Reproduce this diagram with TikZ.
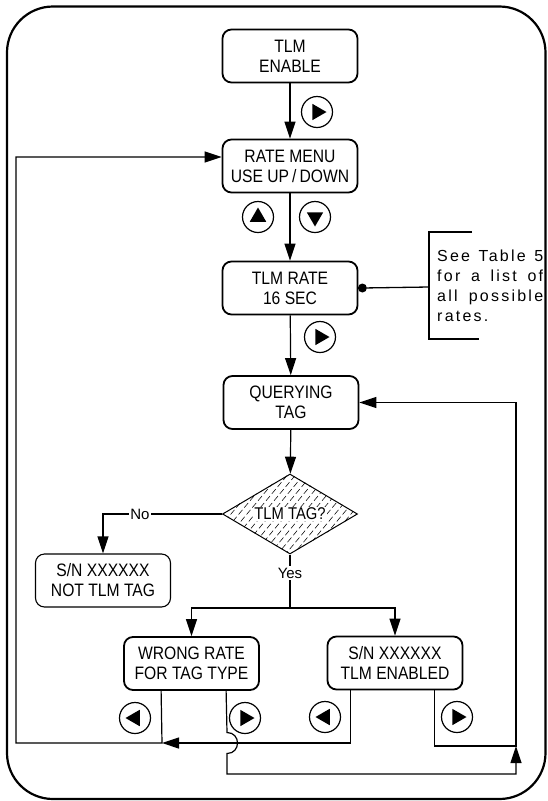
\documentclass[tikz,border=0pt]{standalone}
\usepackage{fontspec}
\setmainfont{Liberation Sans}
\newfontfamily\boxfont[FakeStretch=0.87]{Liberation Sans}
\newfontfamily\notefont[LetterSpace=14]{Liberation Sans}
\usetikzlibrary{arrows.meta,shapes.geometric}

\tikzset{
  box/.style={draw, line width=1.8pt, rounded corners=9pt, minimum width=135pt,
    minimum height=53pt, inner sep=0pt, align=center,
    font=\boxfont\fontsize{18}{20}\selectfont},
  conn/.style={line width=1.2pt},
  arr/.style={conn, -{Triangle[length=17pt,width=11pt]}},
  btn/.style={circle, draw, line width=1.2pt, minimum size=31pt, inner sep=0pt},
  tri/.style={regular polygon, regular polygon sides=3, fill, draw=none,
    inner sep=0pt, minimum size=19pt, shape border rotate=#1},
  lbl/.style={fill=white, inner sep=1.5pt, font=\fontsize{15}{17}\selectfont},
  hatch/.style={line width=0.55pt, dash pattern=on 6pt off 3pt},
}

\begin{document}
\begin{tikzpicture}[x=1pt,y=-1pt]
\useasboundingbox (0,0) rectangle (548,801);

% outer frame
\draw[line width=2.2pt, rounded corners=46pt] (7,6.5) rectangle (545.5,799);

% menu states
\node[box] (en)    at (290,56)    {TLM\\ENABLE};
\node[box] (menu)  at (290,166)   {RATE MENU\\USE UP\,/\,DOWN};
\node[box] (rate)  at (290,288)   {TLM RATE\\16 SEC};
\node[box] (query) at (291,402.5) {QUERYING\\TAG};

% decision
\node[diamond, draw, line width=1pt, minimum width=135pt, minimum height=80pt,
      aspect=1.69, inner sep=0pt] (dia) at (290,514) {};
\begin{scope}
  \clip (dia.north) -- (dia.east) -- (dia.south) -- (dia.west) -- cycle;
  \foreach \k in {140,148,...,372}
    \draw[hatch] (\k,556) -- ++(70,-84);
\end{scope}
\node[fill=white, inner sep=1pt, font=\boxfont\fontsize{17}{19}\selectfont]
  (diat) at (dia.center) {TLM TAG?};

\node[box, line width=1.1pt] (nottlm) at (103,580.5) {S/N XXXXXX\\NOT TLM TAG};
\node[box] (wrong)   at (191.5,663.5) {WRONG RATE\\FOR TAG TYPE};
\node[box] (enabled) at (395,663)     {S/N XXXXXX\\TLM ENABLED};

% key buttons: circle with a filled triangle
\foreach \name/\pos/\dir in {b1/{317,112}/-90, b2/{258,217}/0, b3/{315,217}/180,
    b4/{320,337}/-90, b5/{135,718}/90, b6/{245,718}/-90, b7/{325,717}/90,
    b8/{457,717}/-90} {
  \node[btn] (\name) at (\pos) {};
  \node[tri=\dir] (\name t) at (\name.center) {};
}

% main flow
\draw[arr] (en) -- (menu);
\draw[arr] (menu) -- (rate);
\draw[arr] (rate) -- (query);
\draw[arr] (query) -- (dia);

\coordinate (nocorner) at (103,514);
\draw[arr] (dia.west) -- (nocorner) -- (nottlm.north);
\node[lbl] (no) at (140,514) {No};

\coordinate (split) at (290,608);
\draw[conn] (dia.south) -- (split);
\node[lbl] (yes) at (290,573) {Yes};
\draw[arr] (split) -| (wrong.north);
\draw[arr] (split) -| (enabled.north);

% exits from the result states
\coordinate (wl) at ([xshift=38pt]wrong.south west);
\coordinate (wr) at ([xshift=103pt]wrong.south west);
\coordinate (el) at ([xshift=24pt]enabled.south west);
\coordinate (er) at ([xshift=108pt]enabled.south west);
\coordinate (menuin) at ([yshift=9pt]menu.west);
\coordinate (join) at (162,743);
\coordinate (lbot) at (16,743);
\coordinate (rtop) at (516,746);
\coordinate (rbot) at (516,774);
\coordinate (jtop) at (227,732.5);
\coordinate (jbot) at (227,753.5);

\draw[arr] (wl) -- (join) -- (lbot) |- (menuin);
\draw[arr] (el) |- (join);
\draw[arr] (er) |- (rtop) |- (query.east);
\draw[arr] (wr) -- (jtop) .. controls +(14,0) and +(14,0) .. (jbot) |- (rbot) -- (rtop);

% note on the rate choices
\node[circle, fill, minimum size=9pt, inner sep=0pt] (dot) at ([xshift=4pt]rate.east) {};
\coordinate (brk) at (429,287);
\coordinate (brka) at (472,232);
\coordinate (brkb) at (429,232);
\coordinate (brkc) at (429,339);
\coordinate (brkd) at (479,339);
\draw[line width=1.3pt] (dot) -- (brk);
\draw[line width=1.8pt] (brka) -- (brkb) -- (brkc) -- (brkd);
\node[anchor=north west, inner sep=0pt, align=left,
      font=\notefont\fontsize{16}{20}\selectfont] (note) at (437,250)
  {\makebox[106pt][s]{See Table 5}\\\makebox[106pt][s]{for a list of}\\
   \makebox[106pt][s]{all possible}\\rates.};
\end{tikzpicture}
\end{document}
